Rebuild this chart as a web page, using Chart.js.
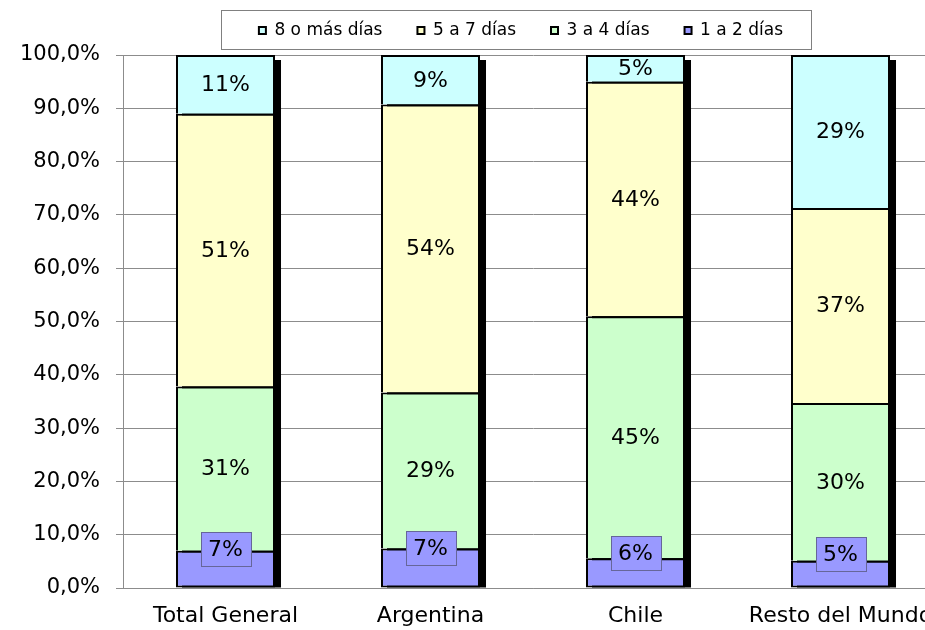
<!DOCTYPE html>
<html>
<head>
<meta charset="utf-8">
<script src="https://cdn.jsdelivr.net/npm/chart.js@4.4.0/dist/chart.umd.min.js"></script>
<style>
html,body{margin:0;padding:0;background:#fff;overflow:hidden;}
#wrap{width:960px;height:630px;}
</style>
</head>
<body>
<div id="wrap"><canvas id="c" width="960" height="630"></canvas></div>
<script>
const categories = ['Total General', 'Argentina', 'Chile', 'Resto del Mundo'];
const dias1a2 = [7.0, 7.4, 5.6, 5.1];
const dias3a4 = [30.8, 29.3, 45.4, 29.6];
const dias5a7 = [51.2, 54.0, 44.0, 36.6];
const dias8mas = [11.0, 9.3, 5.0, 28.7];
const seriesNames = ['1 a 2 días', '3 a 4 días', '5 a 7 días', '8 o más días'];
const seriesColors = ['#9999ff', '#ccffcc', '#ffffcc', '#ccffff'];

Chart.defaults.font.family = '"DejaVu Sans", Verdana, sans-serif';
Chart.defaults.color = '#000';

const LEGEND_H = 55;
const LEGEND_SHIFT_Y = 13;
const LEGEND_SHIFT_X = 41;

const layoutPlugin = {
  id: 'layoutFix',
  beforeLayout(chart) {
    const lg = chart.legend;
    if (lg && !lg._patched) {
      const f = lg.fit.bind(lg);
      lg.fit = function () { f(); this.height = LEGEND_H; };
      lg._patched = true;
    }
  },
  afterLayout(chart) {
    const lg = chart.legend;
    if (lg) {
      lg.top -= LEGEND_SHIFT_Y; lg.bottom -= LEGEND_SHIFT_Y;
      lg.left += LEGEND_SHIFT_X; lg.right += LEGEND_SHIFT_X;
    }
  }
};

const shadowPlugin = {
  id: 'shadow',
  beforeDatasetsDraw(chart) {
    const ctx = chart.ctx;
    const first = chart.getDatasetMeta(0).data;
    const last = chart.getDatasetMeta(chart.data.datasets.length - 1).data;
    ctx.save();
    ctx.fillStyle = '#000';
    first.forEach((el, i) => {
      const top = last[i].y;
      const bottom = el.base;
      const w = el.width;
      ctx.fillRect(el.x - w / 2 + 6, top + 5, w, bottom - top - 5);
    });
    ctx.restore();
  }
};

const labelPlugin = {
  id: 'vlabels',
  afterDatasetsDraw(chart) {
    const ctx = chart.ctx;
    ctx.save();
    ctx.font = '22px "DejaVu Sans", Verdana, sans-serif';
    ctx.textAlign = 'center';
    ctx.textBaseline = 'middle';
    chart.data.datasets.forEach((ds, di) => {
      chart.getDatasetMeta(di).data.forEach((el, i) => {
        const txt = Math.round(ds.data[i]) + '%';
        const cy = (el.y + el.base) / 2;
        if (di === 0) {
          const tw = ctx.measureText(txt).width;
          const bw = Math.round(tw + 15), bh = 34;
          const by = cy - 20;
          const bx = Math.round(el.x - bw / 2);
          const bt = Math.round(by - bh / 2);
          ctx.fillStyle = '#9999ff';
          ctx.fillRect(bx, bt, bw, bh);
          ctx.strokeStyle = '#666699';
          ctx.lineWidth = 1;
          ctx.strokeRect(bx + 0.5, bt + 0.5, bw, bh);
          ctx.fillStyle = '#000';
          ctx.fillText(txt, el.x, by + 1);
        } else {
          ctx.fillStyle = '#000';
          ctx.fillText(txt, el.x, cy + 1);
        }
      });
    });
    ctx.restore();
  }
};

const legendBoxPlugin = {
  id: 'legendBox',
  afterDraw(chart) {
    const lg = chart.legend;
    if (!lg || !lg.legendHitBoxes || !lg.legendHitBoxes.length) return;
    const hb = lg.legendHitBoxes;
    const firstB = hb[0], lastB = hb[hb.length - 1];
    const cy = firstB.top + firstB.height / 2;
    const ctx = chart.ctx;
    ctx.save();
    ctx.strokeStyle = '#808080';
    ctx.lineWidth = 1;
    const l = Math.round(firstB.left - 38) + 0.5;
    const r = Math.round(lastB.left + lastB.width + 28) + 0.5;
    const t = Math.round(cy - 21) + 0.5;
    const b = Math.round(cy + 18) + 0.5;
    ctx.strokeRect(l, t, r - l, b - t);
    ctx.restore();
  }
};

const datasets = [dias1a2, dias3a4, dias5a7, dias8mas].map((d, i) => ({
  label: seriesNames[i],
  data: d,
  backgroundColor: seriesColors[i],
  borderColor: '#000',
  borderWidth: 2,
  borderSkipped: i === 0 ? false : 'start',
  categoryPercentage: 1.0,
  barPercentage: 0.483
}));

new Chart(document.getElementById('c'), {
  type: 'bar',
  data: { labels: categories, datasets: datasets },
  options: {
    responsive: false,
    animation: false,
    layout: { padding: { left: 17, right: 17, top: 0, bottom: 0 } },
    plugins: {
      legend: {
        display: true,
        position: 'top',
        reverse: true,
        labels: {
          boxWidth: 7,
          boxHeight: 7,
          padding: 35,
          font: { size: 17 },
          color: '#000'
        }
      },
      tooltip: { enabled: false }
    },
    scales: {
      x: {
        stacked: true,
        afterFit(scale) { scale.height = 42; },
        grid: { display: false, drawTicks: false },
        border: { display: true, color: '#8c8c8c', width: 1 },
        ticks: { font: { size: 22 }, padding: 15, color: '#000', maxRotation: 0, autoSkip: false }
      },
      y: {
        stacked: true,
        min: 0,
        max: 100,
        afterFit(scale) { scale.width = 106; },
        ticks: {
          stepSize: 10,
          font: { size: 21 },
          padding: 16,
          color: '#000',
          callback: (v) => v.toFixed(1).replace('.', ',') + '%'
        },
        grid: { color: '#8c8c8c', lineWidth: 1, tickLength: 7 },
        border: { display: true, color: '#8c8c8c', width: 1 }
      }
    }
  },
  plugins: [layoutPlugin, shadowPlugin, labelPlugin, legendBoxPlugin]
});
</script>
</body>
</html>
